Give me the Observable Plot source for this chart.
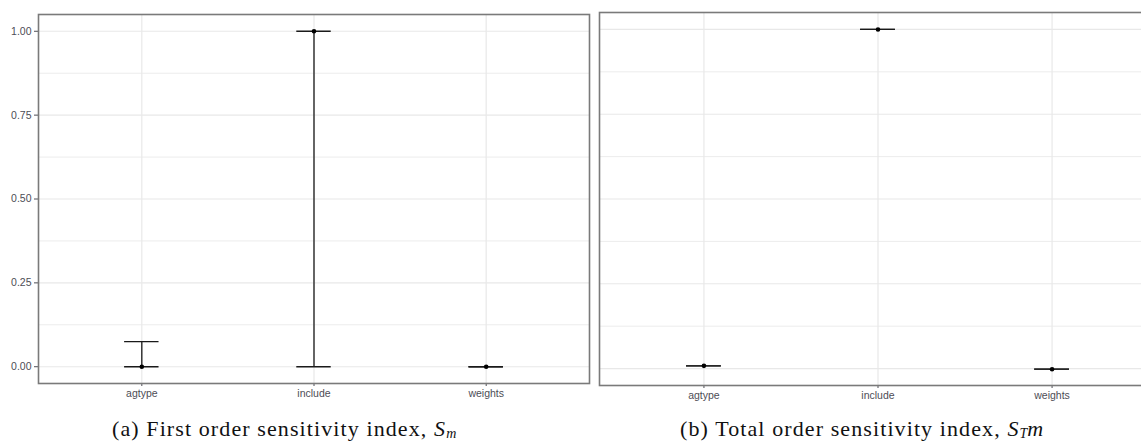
<!DOCTYPE html>
<html>
<head>
<meta charset="utf-8">
<script src="https://cdn.jsdelivr.net/npm/d3@7"></script>
<script src="https://cdn.jsdelivr.net/npm/@observablehq/plot@0.6"></script>
<style>
  html, body { margin: 0; padding: 0; background: #fff; }
  #root { position: relative; width: 1141px; height: 444px; overflow: hidden; background: #fff; }
  .panel { position: absolute; top: 0; }
  .panel svg { max-width: none !important; }
  .cap { position: absolute; font-family: "Liberation Serif", "DejaVu Serif", serif; font-size: 22px; line-height: 22px; color: #111; white-space: nowrap; letter-spacing: 1.1px; }
  .cap sub { font-size: 14px; vertical-align: -2px; line-height: 0; letter-spacing: 0; }
</style>
</head>
<body>
<div id="root">
  <div id="pa" class="panel" style="left:0px;width:595px"></div>
  <div id="pb" class="panel" style="left:595px;width:567px"></div>
  <div class="cap" style="left:112px;top:418px">(a) First order sensitivity index, <i>S</i><sub><i>m</i></sub></div>
  <div class="cap" style="left:680px;top:418px">(b) Total order sensitivity index, <i>S</i><sub><i>T</i></sub><i>m</i></div>
</div>
<script>
// Parameters (categories)
const params = ["agtype", "include", "weights"];
// First order index (a)
const firstEst  = [0.000, 1.000, 0.000];
const firstLow  = [0.000, 0.000, 0.000];
const firstHigh = [0.075, 1.000, 0.000];
// Total order index (b)
const totalEst  = [0.008, 1.000, -0.002];
const totalLow  = [0.008, 1.000, -0.002];
const totalHigh = [0.008, 1.000, -0.002];
// Axis ticks
const yMajor = [0, 0.25, 0.5, 0.75, 1];
const yMinor = [0.125, 0.375, 0.625, 0.875];

function rows(est, low, high) {
  return params.map((p, i) => ({idx: i + 1, name: p, est: est[i], low: low[i], high: high[i]}));
}

function panel({data, width, height, marginLeft, marginRight, marginTop, marginBottom, showY}) {
  const halfW = 0.1;
  return Plot.plot({
    width, height, marginLeft, marginRight, marginTop, marginBottom,
    style: {fontFamily: "'Liberation Sans', Arial, sans-serif", fontSize: "10.5px", background: "#fff"},
    x: {domain: [0.4, 3.6], axis: null, label: null},
    y: {domain: [-0.05, 1.05], axis: null, label: null},
    marks: [
      Plot.ruleY(yMinor, {stroke: "#ececec", strokeWidth: 1}),
      Plot.ruleY(yMajor, {stroke: "#e8e8e8", strokeWidth: 1.2}),
      Plot.ruleX([1, 2, 3], {stroke: "#e8e8e8", strokeWidth: 1.2}),
      showY ? Plot.axisY({ticks: yMajor, tickFormat: d3.format(".2f"), tickSize: 4, tickPadding: 3, color: "#4d4d55", fontSize: 10.5, label: null}) : null,
      Plot.axisX({ticks: [1, 2, 3], tickFormat: i => params[i - 1], tickSize: 3, tickPadding: 3, color: "#4d4d55", fontSize: 10.5, label: null}),
      Plot.ruleX(data, {x: "idx", y1: "low", y2: "high", stroke: "#1a1a1a", strokeWidth: 1.3}),
      Plot.ruleY(data, {y: "low", x1: d => d.idx - halfW, x2: d => d.idx + halfW, stroke: "#1a1a1a", strokeWidth: 1.3}),
      Plot.ruleY(data, {y: "high", x1: d => d.idx - halfW, x2: d => d.idx + halfW, stroke: "#1a1a1a", strokeWidth: 1.3}),
      Plot.dot(data, {x: "idx", y: "est", r: 2.3, fill: "#000", stroke: null}),
      Plot.frame({stroke: "#7a7a7a", strokeWidth: 1.6})
    ]
  });
}

document.getElementById("pa").appendChild(panel({
  data: rows(firstEst, firstLow, firstHigh),
  width: 595, height: 405, marginLeft: 38, marginRight: 6, marginTop: 14, marginBottom: 22, showY: true
}));
document.getElementById("pb").appendChild(panel({
  data: rows(totalEst, totalLow, totalHigh),
  width: 567, height: 405, marginLeft: 4, marginRight: 6, marginTop: 12, marginBottom: 20, showY: false
}));
</script>
</body>
</html>
